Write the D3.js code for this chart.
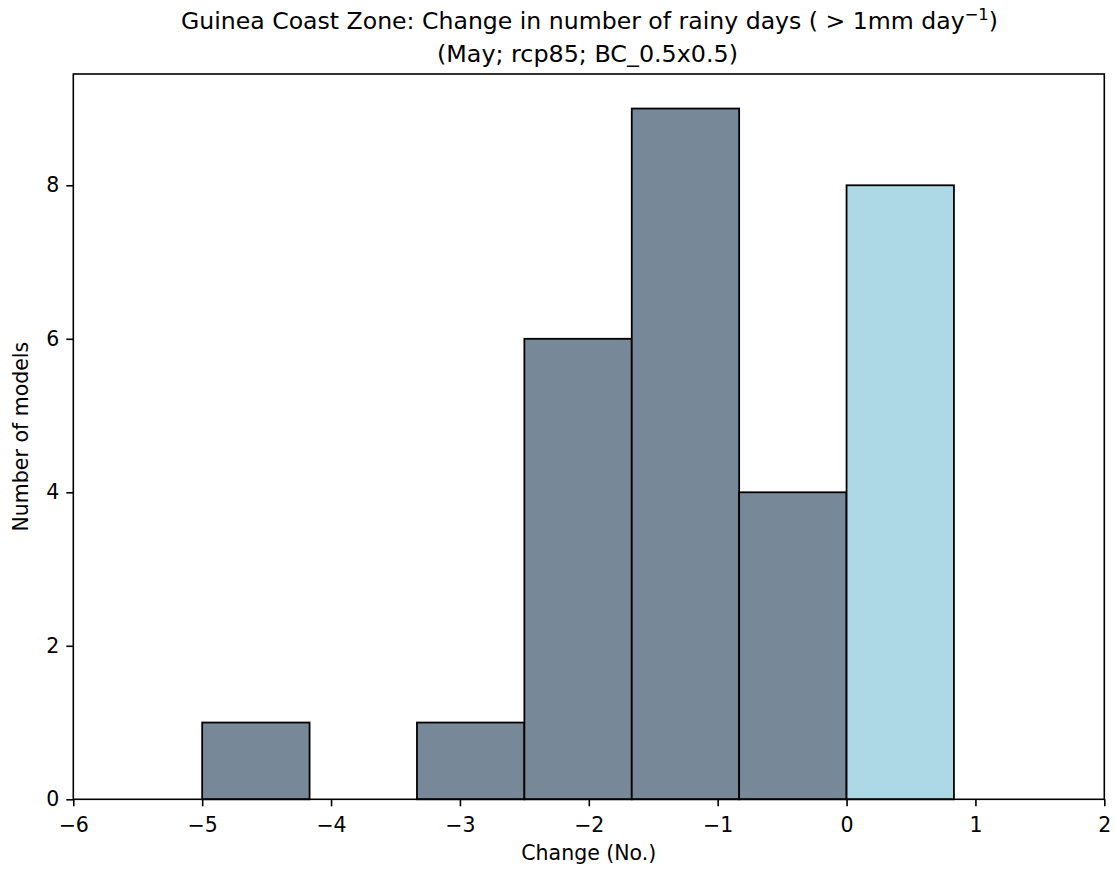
<!DOCTYPE html>
<html><head><meta charset="utf-8">
<script src="https://cdn.jsdelivr.net/npm/d3@7"></script>
<style>body{margin:0;background:#fff;} text{font-family:"DejaVu Sans",sans-serif;fill:#000;}</style>
</head><body>
<svg id="c" width="1115" height="869"></svg>
<script>
const binEdges = [-5, -4.1667, -3.3333, -2.5, -1.6667, -0.8333, 0, 0.8333];
const counts = [1, 0, 1, 6, 9, 4, 8];
const xTicks = [-6, -5, -4, -3, -2, -1, 0, 1, 2];
const yTicks = [0, 2, 4, 6, 8];
const negColor = "#778899", posColor = "#ADD8E6";

const svg = d3.select("#c");
const L = 73.3, R = 1104.3, T = 74, B = 799.3;
const FS = 20.5;
const x = d3.scaleLinear().domain([-6, 2]).range([L, R]);
const y = d3.scaleLinear().domain([0, 9.45]).range([B, T]);

const bins = counts.map((c, i) => ({x0: binEdges[i], x1: binEdges[i+1], c}));
svg.append("g").selectAll("rect").data(bins.filter(d => d.c > 0)).join("rect")
  .attr("x", d => x(d.x0)).attr("width", d => x(d.x1) - x(d.x0))
  .attr("y", d => y(d.c)).attr("height", d => y(0) - y(d.c))
  .attr("fill", d => d.x0 >= 0 ? posColor : negColor)
  .attr("stroke", "#000").attr("stroke-width", 1.8);

// frame
svg.append("rect").attr("x", L).attr("y", T).attr("width", R - L).attr("height", B - T)
  .attr("fill", "none").attr("stroke", "#000").attr("stroke-width", 1.6);

const xa = svg.append("g").attr("transform", `translate(0,${B})`)
  .call(d3.axisBottom(x).tickValues(xTicks).tickSize(7).tickPadding(7).tickFormat(d => d < 0 ? "\u2212" + Math.abs(d) : d));
const ya = svg.append("g").attr("transform", `translate(${L},0)`)
  .call(d3.axisLeft(y).tickValues(yTicks).tickSize(7).tickPadding(7));
[xa, ya].forEach(a => {
  a.attr("font-size", null).attr("font-family", null);
  a.select(".domain").remove();
  a.selectAll(".tick line").attr("stroke", "#000").attr("stroke-width", 1.6);
  a.selectAll(".tick text").attr("font-size", FS).attr("fill", "#000");
});
xa.selectAll(".tick text").attr("y", 33).attr("dy", 0);

svg.append("text").attr("x", (L + R) / 2).attr("y", 860).attr("text-anchor", "middle")
  .attr("font-size", FS).text("Change (No.)");
svg.append("text").attr("transform", `translate(28,${(T + B) / 2}) rotate(-90)`)
  .attr("text-anchor", "middle").attr("font-size", FS).text("Number of models");

const t1 = svg.append("text").attr("x", 181).attr("y", 29).attr("font-size", 23)
  .attr("textLength", 817).attr("lengthAdjust", "spacingAndGlyphs");
t1.append("tspan").text("Guinea Coast Zone: Change in number of rainy days ( > 1mm day");
t1.append("tspan").attr("dy", -9).attr("font-size", 16).text("\u22121");
t1.append("tspan").attr("dy", 9).text(")");
svg.append("text").attr("x", 437).attr("y", 62).attr("font-size", 23)
  .attr("textLength", 301).attr("lengthAdjust", "spacingAndGlyphs")
  .text("(May; rcp85; BC_0.5x0.5)");
</script>
</body></html>
